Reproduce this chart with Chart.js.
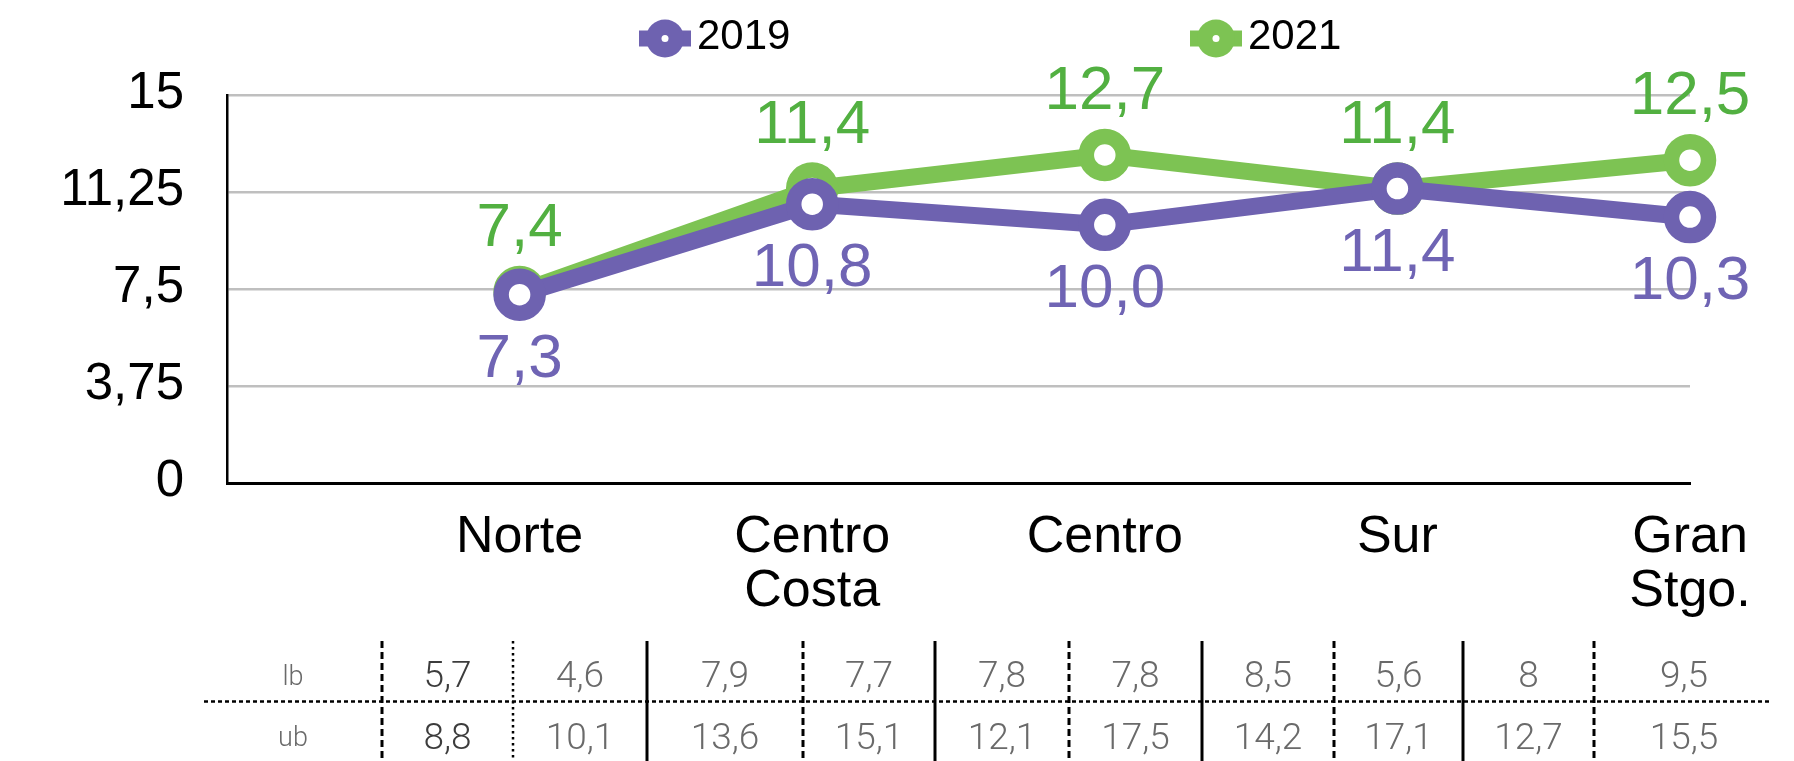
<!DOCTYPE html>
<html>
<head>
<meta charset="utf-8">
<script src="https://cdn.jsdelivr.net/npm/chart.js@4.4.1/dist/chart.umd.min.js"></script>
<style>
  html, body { margin: 0; padding: 0; background: #ffffff; }
  #wrap { position: relative; width: 1794px; height: 761px; }
  canvas { display: block; }
</style>
</head>
<body>
<div id="wrap"><canvas id="c" width="1794" height="761"></canvas></div>
<script>
// ---------- DATA ----------
const categories = ['Norte', ['Centro', 'Costa'], 'Centro', 'Sur', ['Gran', 'Stgo.']];
const seriesNames = ['2019', '2021'];
const values2019 = [7.3, 10.8, 10.0, 11.4, 10.3];
const values2021 = [7.4, 11.4, 12.7, 11.4, 12.5];
const yTicks = [0, 3.75, 7.5, 11.25, 15];
const tableRowLabels = ['lb', 'ub'];
const lb2019 = [5.7, 7.9, 7.8, 8.5, 8];
const lb2021 = [4.6, 7.7, 7.8, 5.6, 9.5];
const ub2019 = [8.8, 13.6, 12.1, 14.2, 12.7];
const ub2021 = [10.1, 15.1, 17.5, 17.1, 15.5];

// ---------- STYLE / LAYOUT ----------
const FONT = '"Liberation Sans", Arial, sans-serif';
const PURPLE = '#6E62B0';
const PURPLE_TXT = '#6F64B4';
const GREEN = '#7DC353';
const GREEN_TXT = '#52B041';
const comma = v => String(v).replace('.', ',');

const legendPlugin = {
  id: 'customLegend',
  afterDraw(chart) {
    const ctx = chart.ctx;
    const xs = [665, 1216];
    const y = 38.5;
    chart.data.datasets.forEach((ds, i) => {
      const x = xs[i];
      ctx.save();
      ctx.strokeStyle = ds.borderColor;
      ctx.lineWidth = 16;
      ctx.beginPath(); ctx.moveTo(x - 26, y); ctx.lineTo(x + 26, y); ctx.stroke();
      ctx.fillStyle = ds.borderColor;
      ctx.beginPath(); ctx.arc(x, y, 19, 0, Math.PI * 2); ctx.fill();
      ctx.fillStyle = '#ffffff';
      ctx.beginPath(); ctx.arc(x, y, 3.5, 0, Math.PI * 2); ctx.fill();
      ctx.fillStyle = '#000000';
      ctx.font = '42px ' + FONT;
      ctx.textAlign = 'left';
      ctx.textBaseline = 'alphabetic';
      ctx.fillText(ds.label, x + 32, 48.5);
      ctx.restore();
    });
  }
};

const dataLabelPlugin = {
  id: 'dataLabels',
  afterDatasetsDraw(chart) {
    const ctx = chart.ctx;
    chart.data.datasets.forEach((ds, di) => {
      const meta = chart.getDatasetMeta(di);
      meta.data.forEach((pt, i) => {
        const txt = ds.data[i].y.toFixed(1).replace('.', ',');
        ctx.save();
        ctx.font = '62px ' + FONT;
        ctx.fillStyle = ds.labelColor;
        ctx.textAlign = 'center';
        ctx.textBaseline = 'alphabetic';
        if (ds.labelAbove) ctx.fillText(txt, pt.x, pt.y - 46);
        else ctx.fillText(txt, pt.x, pt.y + 82);
        ctx.restore();
      });
    });
  }
};

const tablePlugin = {
  id: 'ciTable',
  afterDraw(chart) {
    const ctx = chart.ctx;
    const cols = [204, 382, 513, 647, 803, 935, 1069, 1202, 1334, 1463, 1594, 1774];
    const divStyle = ['dash', 'dot', 'solid', 'dash', 'solid', 'dash', 'solid', 'dash', 'solid', 'dash'];
    const top = 641, bottom = 761, midY = 701.5;
    const rowBase = [687, 748.5];
    const labelBase = [684.5, 745.5];
    ctx.save();
    ctx.strokeStyle = '#000';
    ctx.lineWidth = 2.5;
    ctx.setLineDash([4, 3]);
    ctx.beginPath(); ctx.moveTo(204, midY); ctx.lineTo(1769, midY); ctx.stroke();
    divStyle.forEach((s, k) => {
      const x = cols[k + 1];
      if (s === 'solid') { ctx.setLineDash([]); ctx.lineWidth = 3; }
      else if (s === 'dash') { ctx.setLineDash([7, 4]); ctx.lineWidth = 3; }
      else { ctx.setLineDash([2.5, 3.5]); ctx.lineWidth = 2.5; }
      ctx.beginPath(); ctx.moveTo(x, top); ctx.lineTo(x, bottom); ctx.stroke();
    });
    ctx.setLineDash([]);
    ctx.textAlign = 'center';
    ctx.textBaseline = 'alphabetic';
    ctx.font = '300 27px Roboto, ' + FONT;
    ctx.fillStyle = '#6a6a6a';
    tableRowLabels.forEach((t, r) => ctx.fillText(t, (cols[0] + cols[1]) / 2, labelBase[r]));
    const rows = [lb2019.flatMap((v, i) => [v, lb2021[i]]), ub2019.flatMap((v, i) => [v, ub2021[i]])];
    ctx.font = '300 37px Roboto, ' + FONT;
    rows.forEach((row, r) => {
      row.forEach((v, j) => {
        ctx.fillStyle = j === 0 ? '#3c3c3c' : '#6a6a6a';
        ctx.fillText(comma(v), (cols[j + 1] + cols[j + 2]) / 2, rowBase[r]);
      });
    });
    ctx.restore();
  }
};

const toPoints = arr => arr.map((v, i) => ({ x: i + 1, y: v }));

new Chart(document.getElementById('c'), {
  type: 'line',
  data: {
    datasets: [
      {
        label: seriesNames[0], data: toPoints(values2019),
        borderColor: PURPLE, backgroundColor: PURPLE, borderWidth: 17,
        pointRadius: 18.5, pointBorderWidth: 15.5, pointBackgroundColor: '#ffffff',
        pointBorderColor: PURPLE, pointHoverRadius: 18.5,
        labelColor: PURPLE_TXT, labelAbove: false, clip: false
      },
      {
        label: seriesNames[1], data: toPoints(values2021),
        borderColor: GREEN, backgroundColor: GREEN, borderWidth: 17,
        pointRadius: 18.5, pointBorderWidth: 15.5, pointBackgroundColor: '#ffffff',
        pointBorderColor: GREEN, pointHoverRadius: 18.5,
        labelColor: GREEN_TXT, labelAbove: true, clip: false
      }
    ]
  },
  options: {
    responsive: false,
    animation: false,
    events: [],
    layout: { padding: { left: 0, right: 104, top: 95.5, bottom: 0 } },
    plugins: { legend: { display: false }, tooltip: { enabled: false } },
    scales: {
      x: {
        type: 'linear', min: 0, max: 5,
        grid: { display: false, drawTicks: false },
        border: { display: true, color: '#000000', width: 3 },
        afterBuildTicks: s => { s.ticks = [0, 1, 2, 3, 4, 5].map(v => ({ value: v })); },
        afterFit: s => { s.height = 761 - 483.5; },
        ticks: {
          autoSkip: false, maxRotation: 0, minRotation: 0, padding: 27,
          color: '#000000', font: { family: FONT, size: 52, lineHeight: 1.04 },
          callback: v => (v >= 1 ? categories[v - 1] : '')
        }
      },
      y: {
        min: 0, max: 15,
        afterBuildTicks: s => { s.ticks = yTicks.map(v => ({ value: v })); },
        afterFit: s => { s.width = 227; },
        grid: { color: '#bfbfbf', lineWidth: 2.5, drawTicks: false },
        border: { display: true, color: '#000000', width: 2.5 },
        ticks: {
          padding: 43, labelOffset: -2, color: '#000000',
          font: { family: FONT, size: 51 },
          callback: v => comma(v)
        }
      }
    }
  },
  plugins: [legendPlugin, dataLabelPlugin, tablePlugin]
});
</script>
</body>
</html>
